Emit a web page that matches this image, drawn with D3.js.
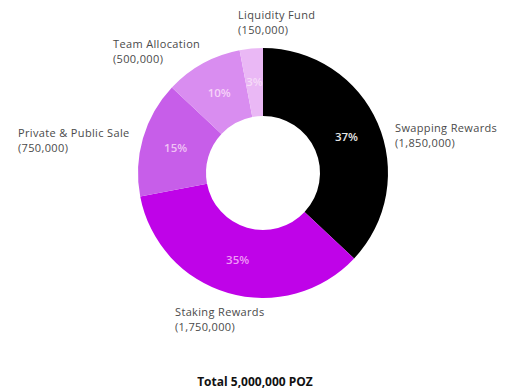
<!DOCTYPE html>
<html>
<head>
<meta charset="utf-8">
<script src="https://cdn.jsdelivr.net/npm/d3@7"></script>
<style>
  html, body { margin: 0; padding: 0; background: #fff; }
  svg { display: block; }
  text { font-family: "Open Sans", "Noto Sans", sans-serif; }
</style>
</head>
<body>
<svg id="chart" width="510" height="392"></svg>
<script>
const categories = ["Swapping Rewards", "Staking Rewards", "Private & Public Sale", "Team Allocation", "Liquidity Fund"];
const amounts = [1850000, 1750000, 750000, 500000, 150000];
const amountLabels = ["(1,850,000)", "(1,750,000)", "(750,000)", "(500,000)", "(150,000)"];
const percentLabels = ["37%", "35%", "15%", "10%", "3%"];
const sliceColors = ["#000000", "#bf03e8", "#c75ee9", "#d98df0", "#eab8f5"];
const percentColors = ["#e6e6e6", "#f09af7", "#f0c2f5", "#f6d3f8", "#f6dbf8"];
const totalLabel = "Total 5,000,000 POZ";

// label anchor positions (text layout)
const labelPos = [
  {x: 395, y: 132}, {x: 175, y: 316}, {x: 18, y: 137}, {x: 113, y: 48}, {x: 238, y: 19}
];

const svg = d3.select("#chart");
const cx = 263, cy = 173, rOuter = 125, rInner = 57;

const pie = d3.pie().sort(null).value(d => d.value);
const data = categories.map((c, i) => ({name: c, value: amounts[i], i}));
const arcs = pie(data);
const arc = d3.arc().innerRadius(rInner).outerRadius(rOuter);

const g = svg.append("g").attr("transform", `translate(${cx},${cy})`);
g.selectAll("path").data(arcs).join("path")
  .attr("d", arc)
  .attr("fill", d => sliceColors[d.data.i]);

const labelArc = d3.arc().innerRadius((rInner + rOuter) / 2).outerRadius((rInner + rOuter) / 2);
g.selectAll("text.pct").data(arcs).join("text")
  .attr("class", "pct")
  .attr("x", d => labelArc.centroid(d)[0])
  .attr("y", d => labelArc.centroid(d)[1])
  .attr("dy", "0.35em")
  .attr("text-anchor", "middle")
  .attr("font-size", 11.5)
  .attr("font-weight", 600)
  .attr("fill", d => percentColors[d.data.i])
  .text(d => percentLabels[d.data.i]);

const lg = svg.append("g");
data.forEach((d, i) => {
  lg.append("text")
    .attr("x", labelPos[i].x).attr("y", labelPos[i].y)
    .attr("font-size", 11).attr("letter-spacing", 0.35).attr("fill", "#4a4a4a")
    .text(categories[i]);
  lg.append("text")
    .attr("x", labelPos[i].x).attr("y", labelPos[i].y + 15.2)
    .attr("font-size", 11).attr("letter-spacing", 0.35).attr("fill", "#4a4a4a")
    .text(amountLabels[i]);
});

svg.append("text")
  .attr("x", 255).attr("y", 386)
  .attr("text-anchor", "middle")
  .attr("font-size", 12).attr("font-weight", 700)
  .attr("fill", "#111")
  .text(totalLabel);
</script>
</body>
</html>
